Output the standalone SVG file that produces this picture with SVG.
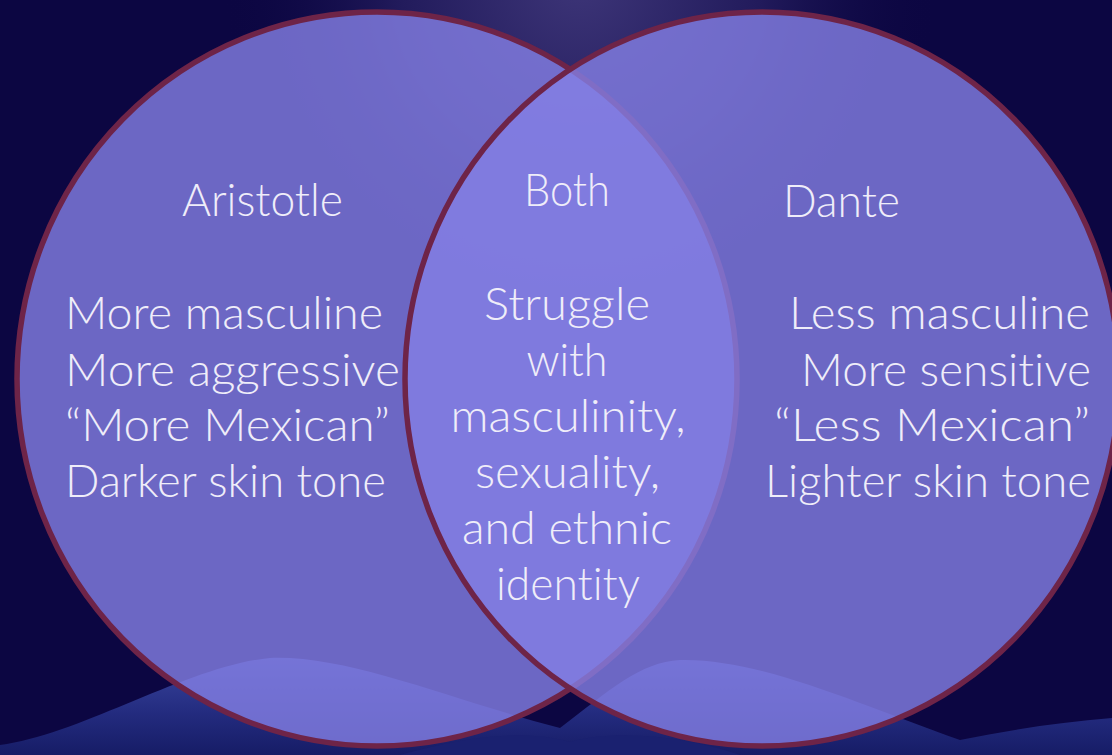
<svg xmlns="http://www.w3.org/2000/svg" width="1112" height="755" viewBox="0 0 1112 755">
  <defs>
    <radialGradient id="glow" cx="580" cy="-20" r="360" gradientUnits="userSpaceOnUse">
      <stop offset="0" stop-color="#3d3578"/>
      <stop offset="0.5" stop-color="#221b5c"/>
      <stop offset="1" stop-color="#0c0642" stop-opacity="0"/>
    </radialGradient>
    <linearGradient id="hills" x1="0" y1="645" x2="0" y2="755" gradientUnits="userSpaceOnUse">
      <stop offset="0" stop-color="#3e4ca6"/>
      <stop offset="0.6" stop-color="#242c80"/>
      <stop offset="1" stop-color="#161c66"/>
    </linearGradient>
    <style>
      .set { fill: #8480e5; fill-opacity: 0.8; stroke: #6e2448; stroke-width: 5.5; }
      .lbl { font-family: "Lato", "Open Sans", "Liberation Sans", sans-serif; font-weight: 300; font-size: 45px; fill: #efedf9; font-variant-ligatures: none; }
      .mid { text-anchor: middle; }
      .end { text-anchor: end; }
    </style>
  </defs>

  <rect x="0" y="0" width="1112" height="755" fill="#0c0642"/>
  <rect x="0" y="0" width="1112" height="420" fill="url(#glow)"/>
  <path d="M0,755 L0,745 C80,735 190,665 270,658 C350,655 450,700 560,728 C610,690 640,662 680,660 C760,658 860,705 960,740 C1010,730 1060,722 1112,718 L1112,755 Z" fill="url(#hills)"/>
  <path d="M400,755 C460,738 520,728 570,742 C620,728 690,738 740,755 Z" fill="#1a2170"/>

  <g id="connectors"/>

  <g id="aristotle">
    <ellipse class="set" cx="377" cy="379" rx="360" ry="367"/>
    <text class="lbl mid" x="262.5" y="216" textLength="161" lengthAdjust="spacingAndGlyphs">Aristotle</text>
    <text class="lbl" x="65" y="329" textLength="318" lengthAdjust="spacingAndGlyphs">More masculine</text>
    <text class="lbl" x="65" y="386" textLength="335" lengthAdjust="spacingAndGlyphs">More aggressive</text>
    <text class="lbl" x="65" y="441" textLength="325" lengthAdjust="spacingAndGlyphs">“More Mexican”</text>
    <text class="lbl" x="65" y="497" textLength="321" lengthAdjust="spacingAndGlyphs">Darker skin tone</text>
  </g>

  <g id="dante">
    <ellipse class="set" cx="762" cy="379" rx="357" ry="367"/>
    <text class="lbl mid" x="841.5" y="217" textLength="117" lengthAdjust="spacingAndGlyphs">Dante</text>
    <text class="lbl end" x="1090" y="329" textLength="301" lengthAdjust="spacingAndGlyphs">Less masculine</text>
    <text class="lbl end" x="1091" y="386" textLength="290" lengthAdjust="spacingAndGlyphs">More sensitive</text>
    <text class="lbl end" x="1090" y="441" textLength="316" lengthAdjust="spacingAndGlyphs">“Less Mexican”</text>
    <text class="lbl end" x="1091" y="497" textLength="326" lengthAdjust="spacingAndGlyphs">Lighter skin tone</text>
  </g>

  <g id="both">
    <text class="lbl mid" x="567" y="206" textLength="86" lengthAdjust="spacingAndGlyphs">Both</text>
    <text class="lbl mid" x="567" y="320" textLength="166" lengthAdjust="spacingAndGlyphs">Struggle</text>
    <text class="lbl mid" x="567" y="376" textLength="81" lengthAdjust="spacingAndGlyphs">with</text>
    <text class="lbl mid" x="568" y="432" textLength="235" lengthAdjust="spacingAndGlyphs">masculinity,</text>
    <text class="lbl mid" x="567.5" y="488" textLength="185" lengthAdjust="spacingAndGlyphs">sexuality,</text>
    <text class="lbl mid" x="567" y="544" textLength="210" lengthAdjust="spacingAndGlyphs">and ethnic</text>
    <text class="lbl mid" x="568" y="600" textLength="144" lengthAdjust="spacingAndGlyphs">identity</text>
  </g>
</svg>
